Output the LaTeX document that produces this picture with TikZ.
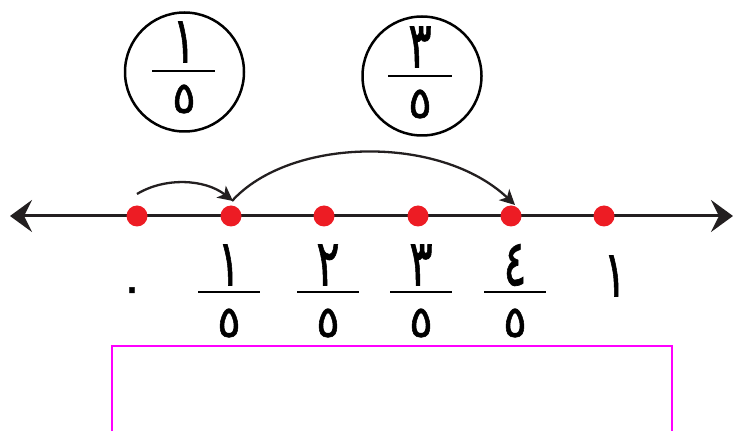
\documentclass[tikz,border=0pt]{standalone}
\usepackage{graphicx}
\usepackage{fontspec}
\newfontfamily\arabicfont[Script=Arabic,FakeBold=1.2]{DejaVu Sans}
\TeXXeTstate=1
\usetikzlibrary{arrows.meta}
\definecolor{ahmar}{HTML}{ED1C24}
\definecolor{aswad}{HTML}{231F20}
\definecolor{wardi}{HTML}{FF00FF}
\newcommand{\tawil}[1]{\scalebox{0.95}[1.4]{#1}}
\tikzset{
  raqam/.style={inner sep=0pt,font=\arabicfont\fontsize{46}{50}\selectfont},
  khams/.style={inner sep=0pt,font=\arabicfont\fontsize{44}{48}\selectfont},
  nuqta/.style={circle,fill=ahmar,inner sep=0pt,minimum size=21pt},
  qaws/.style={->,line width=2.3pt,aswad},
  kasr/.style={line width=2.5pt},
}

\begin{document}
\begin{tikzpicture}[x=1pt,y=1pt,>={Stealth[length=15pt,width=15pt,inset=4pt]}]
          \useasboundingbox (0,0) rectangle (733,431);
          % number line
          \draw[line width=3pt,aswad,{Stealth[length=22pt,width=32pt,inset=8pt]}-{Stealth[length=22pt,width=32pt,inset=8pt]}] (10,215) -- (733,215);
          \foreach \i/\x in {0/137,1/231,2/324,3/418,4/511,5/604}
            \node[nuqta] (p\i) at (\x,215) {};
          \draw[qaws] ([shift={(0,22)}]p0.center) .. controls +(28,17) and +(-28,22) .. ([shift={(2,15)}]p1.center);
          \draw[qaws] ([shift={(1,15)}]p1.center) .. controls +(58,64) and +(-75,71) .. ([shift={(4,11)}]p4.center);
          % labels
          \node[khams] (sifr) at (132,136) {٠};
          \foreach \i/\x/\d in {1/229/١,2/328/٢,3/421/٣,4/515/٤}{
            \node[raqam] (bast\i) at (\x,166) {\tawil{\d}};
            \draw[kasr] (\x-31,139) -- (\x+31,139);
            \node[khams] (maqam\i) at (\x,108) {٥};
          }
          \node[raqam] (wahid) at (615,155) {\tawil{١}};
          % circles
          \draw[line width=2.5pt] (184.5,359) circle (59.5);
          \node[raqam] (bastA) at (184,389) {\tawil{١}};
          \draw[kasr] (152,360) -- (215,360);
          \node[khams] (maqamA) at (184,332) {٥};
          \draw[line width=2.5pt] (422,355) circle (59.5);
          \node[raqam] (bastB) at (420,384) {\tawil{٣}};
          \draw[kasr] (388,355) -- (452,355);
          \node[khams] (maqamB) at (420,327) {٥};
          % bracket
          \draw[wardi,line width=2.5pt] (112,0) -- (112,85) -- (672,85) -- (672,0);
        \end{tikzpicture}
\end{document}
